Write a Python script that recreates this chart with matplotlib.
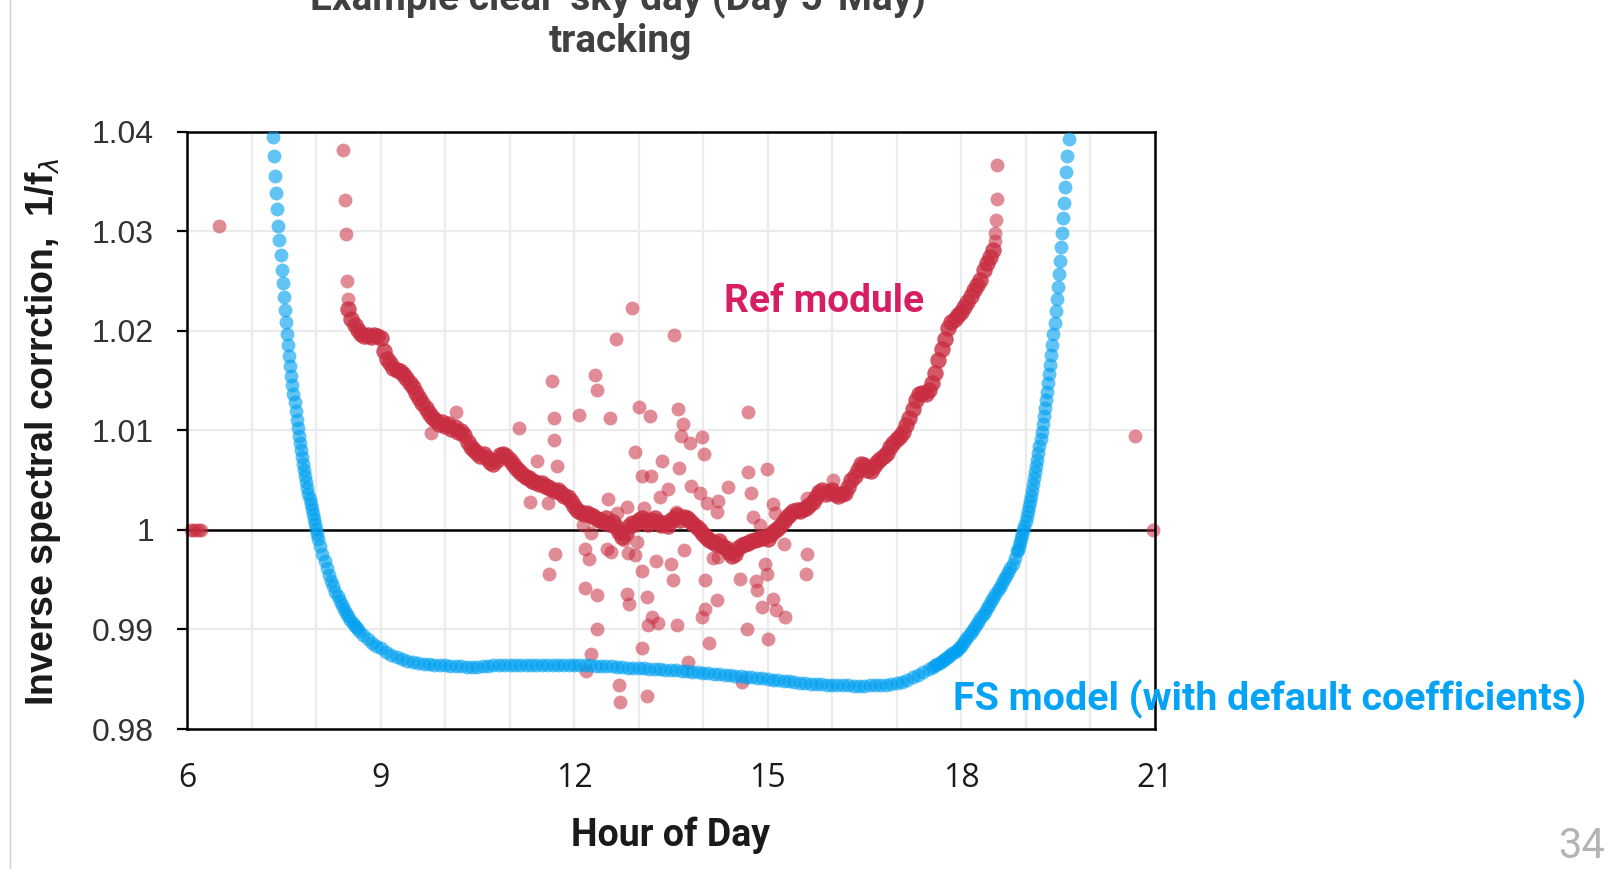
import matplotlib
matplotlib.use("Agg")
import matplotlib.pyplot as plt
from matplotlib.ticker import MultipleLocator
from matplotlib.lines import Line2D
import numpy as np

# ---------------- data ----------------
x_ticks = [6, 9, 12, 15, 18, 21]
x_tick_labels = ["6", "9", "12", "15", "18", "21"]
y_ticks = [0.98, 0.99, 1.00, 1.01, 1.02, 1.03, 1.04]
y_tick_labels = ["0.98", "0.99", "1", "1.01", "1.02", "1.03", "1.04"]

# FS model (minutes of day, value)
blue_minutes = [
    440, 441, 442, 443, 444, 445, 446, 447, 448, 449, 450, 451, 452, 453, 454,
    455, 456, 457, 458, 459, 460, 461, 462, 463, 464, 465, 466, 467, 468, 469,
    470, 471, 472, 473, 474, 475, 476, 477, 478, 479, 480, 481, 482,
    484, 486, 488, 490, 492, 494, 496, 498, 500, 502, 504, 506, 508, 510, 512,
    514, 516, 518, 520, 524, 528, 532, 536, 540,
    545, 550, 555, 560, 565, 570, 575, 580, 585, 590, 595, 600,
    605, 610, 615, 620, 625, 630, 635, 640,
    645, 650, 655, 660, 665, 670, 675, 680, 685, 690, 695, 700, 705, 710, 715,
    720, 725, 730, 735, 740, 745, 750,
    755, 760, 765, 770, 775, 780, 785, 790, 795, 800, 805, 810, 815, 820, 825,
    830, 835, 840, 845, 850, 855, 860, 865, 870, 875, 880, 885, 890, 895, 900,
    905, 910, 915, 920, 925, 930, 935, 940, 945, 950, 955, 960, 965, 970, 975,
    980, 985, 990, 995, 1000, 1005, 1010, 1015, 1020, 1025, 1030, 1035, 1040,
    1045, 1050,
    1054, 1056, 1058, 1060, 1062, 1064, 1066, 1068, 1070, 1072, 1074, 1076,
    1078, 1080, 1082, 1084, 1086, 1088, 1090, 1092, 1094, 1096, 1098, 1100,
    1102, 1104, 1106, 1108, 1110, 1112, 1114, 1116, 1118, 1120, 1122, 1124,
    1126, 1128, 1130, 1132,
    1133, 1134, 1135, 1136, 1137, 1138, 1139, 1140, 1141, 1142, 1143, 1144,
    1145, 1146, 1147, 1148, 1149, 1150, 1151, 1152, 1153, 1154, 1155, 1156,
    1157, 1158, 1159, 1160, 1161, 1162, 1163, 1164, 1165, 1166, 1167, 1168,
    1169, 1170, 1171, 1172, 1173, 1174, 1175, 1176, 1177, 1178, 1179, 1180,
]
blue_values = [
    1.0395, 1.0376, 1.0356, 1.0338, 1.0322, 1.0305, 1.0291, 1.0276, 1.0261,
    1.0248, 1.0234, 1.0221, 1.0209, 1.0197, 1.0186, 1.0175, 1.0165, 1.0155,
    1.0146, 1.0137, 1.0128, 1.0119, 1.0110, 1.0102, 1.0094, 1.0087, 1.0080,
    1.0073, 1.0066, 1.0060, 1.0054, 1.0048, 1.0042, 1.0036, 1.0031, 1.0026,
    1.0021, 1.0016, 1.0011, 1.0006, 1.0001, 0.9996, 0.9991,
    0.99835, 0.99757, 0.99683, 0.99614, 0.99550, 0.99490, 0.99433, 0.99380,
    0.99332, 0.99286, 0.99244, 0.99203, 0.99166, 0.99131, 0.99098, 0.99068,
    0.99039, 0.99012, 0.98987, 0.98942, 0.98903, 0.98868, 0.98838, 0.98812,
    0.98775, 0.98745, 0.98720, 0.98700, 0.98684, 0.98670, 0.98660, 0.98654,
    0.98650, 0.98646, 0.98643, 0.98640,
    0.98636, 0.98633, 0.98630, 0.98624, 0.98620, 0.98626, 0.98632, 0.98636,
    0.98638, 0.98640, 0.98640, 0.98641, 0.98640, 0.98640, 0.98639, 0.98640,
    0.98641, 0.98642, 0.98641, 0.98640, 0.98640, 0.98639, 0.98640, 0.98640,
    0.98639, 0.98638, 0.98638, 0.98637, 0.98636, 0.98635,
    0.98630, 0.98624, 0.98620, 0.98617, 0.98614, 0.98611, 0.98608, 0.98605,
    0.98602, 0.98599, 0.98596, 0.98593, 0.98589, 0.98585, 0.98580, 0.98575,
    0.98570, 0.98565, 0.98560, 0.98555, 0.98550, 0.98545, 0.98540, 0.98535,
    0.98530, 0.98525, 0.98520, 0.98514, 0.98508, 0.98502, 0.98496, 0.98490,
    0.98484, 0.98478, 0.98472, 0.98466, 0.98461, 0.98456, 0.98452, 0.98448,
    0.98445, 0.98442, 0.98440, 0.98438, 0.98437, 0.98436, 0.98436, 0.98436,
    0.98437, 0.98438, 0.98440, 0.98443, 0.98448, 0.98460, 0.98475, 0.98495,
    0.98518, 0.98545, 0.98572, 0.98600,
    0.98626, 0.98640, 0.98654, 0.98668, 0.98683, 0.98698, 0.98713, 0.98728,
    0.98744, 0.98760, 0.98777, 0.98795, 0.98815, 0.98838, 0.98864, 0.98892,
    0.98921, 0.98951, 0.98982, 0.99013, 0.99045, 0.99078, 0.99112, 0.99146,
    0.99180, 0.99215, 0.99250, 0.99285, 0.99320, 0.99356, 0.99392, 0.99428,
    0.99465, 0.99502, 0.99540, 0.99580, 0.99620, 0.99662, 0.99720, 0.99790,
    0.9980, 0.9984, 0.9988, 0.9992, 0.9996, 1.0000, 1.0004, 1.0009, 1.0014,
    1.0019, 1.0024, 1.0029, 1.0034, 1.0040, 1.0046, 1.0052, 1.0058, 1.0064,
    1.0070, 1.0077, 1.0084, 1.0091, 1.0098, 1.0106, 1.0114, 1.0122, 1.0130,
    1.0139, 1.0148, 1.0157, 1.0166, 1.0176, 1.0186, 1.0197, 1.0208, 1.0220,
    1.0232, 1.0244, 1.0257, 1.0270, 1.0284, 1.0298, 1.0313, 1.0328, 1.0344,
    1.0360, 1.0376, 1.0393,
]

# Ref module, clear part of the day (hour, value)
red_band_hours = [
    8.50, 8.55, 8.60, 8.65, 8.70, 8.75, 8.80, 8.85, 8.90, 8.95,
    9.00, 9.05, 9.10, 9.15, 9.20, 9.25, 9.30, 9.35, 9.40, 9.45,
    9.50, 9.55, 9.60, 9.65, 9.70, 9.75, 9.80, 9.85, 9.90, 9.95,
    10.00, 10.05, 10.10, 10.15, 10.20, 10.25, 10.30, 10.35, 10.40, 10.45,
    10.50, 10.55, 10.60, 10.65, 10.70, 10.75, 10.80, 10.85, 10.90, 10.95,
    11.00, 11.05, 11.10, 11.15, 11.20, 11.25, 11.30, 11.35, 11.40, 11.45,
    11.50, 11.55, 11.60, 11.65, 11.70, 11.75, 11.80, 11.85, 11.90, 11.95,
    12.00, 12.05, 12.10, 12.15, 12.20, 12.25, 12.30, 12.35, 12.40, 12.45,
    12.50, 12.55, 12.60, 12.65, 12.70, 12.75, 12.80, 12.85, 12.90, 12.95,
    13.00, 13.05, 13.10, 13.15, 13.20, 13.25, 13.30, 13.35, 13.40, 13.45,
    13.50, 13.55, 13.60, 13.65, 13.70, 13.75, 13.80, 13.85, 13.90, 13.95,
    14.00, 14.05, 14.10, 14.15, 14.20, 14.25, 14.30, 14.35, 14.40, 14.45,
    14.50, 14.55, 14.60, 14.65, 14.70, 14.75, 14.80, 14.85, 14.90, 14.95,
    15.00, 15.05, 15.10, 15.15, 15.20, 15.25, 15.30, 15.35, 15.40, 15.45,
    15.50, 15.55, 15.60, 15.65, 15.70, 15.75, 15.80, 15.85, 15.90, 15.95,
    16.00, 16.05, 16.10, 16.15, 16.20, 16.25, 16.30, 16.35, 16.40, 16.45,
    16.50, 16.55, 16.60, 16.65, 16.70, 16.75, 16.80, 16.85, 16.90, 16.95,
    17.00, 17.05, 17.10, 17.15, 17.20, 17.25, 17.30, 17.35, 17.40, 17.45,
    17.50, 17.55, 17.60, 17.65, 17.70, 17.75, 17.80, 17.85, 17.90, 17.95,
    18.00, 18.05, 18.10, 18.15, 18.20, 18.25, 18.30, 18.35, 18.40, 18.45,
    18.50,
]
red_band_values = [
    1.0222, 1.0212, 1.0206, 1.0201, 1.0197, 1.0195, 1.0196, 1.0194, 1.0196, 1.0195,
    1.0193, 1.0180, 1.0172, 1.0168, 1.0163, 1.0161, 1.0160, 1.0157, 1.0153, 1.0148,
    1.0144, 1.0138, 1.0132, 1.0127, 1.0122, 1.0117, 1.0113, 1.0110, 1.0106, 1.0108,
    1.0104, 1.0106, 1.0101, 1.0103, 1.0098, 1.0099, 1.0095, 1.0088, 1.0083, 1.0080,
    1.0077, 1.0074, 1.0076, 1.0072, 1.0068, 1.0066, 1.0070, 1.0075, 1.0076, 1.0074,
    1.0070, 1.0066, 1.0062, 1.0059, 1.0056, 1.0053, 1.0052, 1.0049, 1.0048, 1.0046,
    1.0047, 1.0044, 1.0043, 1.0041, 1.0039, 1.0040, 1.0037, 1.0034, 1.0033, 1.0029,
    1.0024, 1.0020, 1.0018, 1.0016, 1.0017, 1.0015, 1.0014, 1.0011, 1.0010, 1.0008,
    1.0012, 1.0006, 1.0008, 1.0003, 0.9998, 0.9993, 0.9997, 1.0004, 1.0007, 1.0006,
    1.0010, 1.0012, 1.0009, 1.0006, 1.0010, 1.0012, 1.0008, 1.0005, 1.0007, 1.0004,
    1.0010, 1.0012, 1.0015, 1.0010, 1.0013, 1.0012, 1.0009, 1.0006, 1.0003, 1.0000,
    0.9996, 0.9993, 0.9990, 0.9988, 0.9986, 0.9989, 0.9984, 0.9982, 0.9978, 0.9974,
    0.9976, 0.9982, 0.9985, 0.9986, 0.9987, 0.9989, 0.9990, 0.9991, 0.9992, 0.9993,
    0.9991, 0.9996, 0.9999, 1.0001, 1.0004, 1.0009, 1.0013, 1.0016, 1.0019, 1.0020,
    1.0019, 1.0021, 1.0022, 1.0025, 1.0028, 1.0033, 1.0038, 1.0040, 1.0036, 1.0038,
    1.0040, 1.0036, 1.0034, 1.0036, 1.0037, 1.0043, 1.0050, 1.0054, 1.0060, 1.0066,
    1.0065, 1.0060, 1.0059, 1.0064, 1.0068, 1.0071, 1.0074, 1.0077, 1.0083, 1.0087,
    1.0091, 1.0094, 1.0098, 1.0105, 1.0112, 1.0121, 1.0130, 1.0137, 1.0138, 1.0137,
    1.0141, 1.0148, 1.0158, 1.0171, 1.0182, 1.0192, 1.0203, 1.0209, 1.0212, 1.0216,
    1.0219, 1.0224, 1.0229, 1.0235, 1.0241, 1.0246, 1.0251, 1.0261, 1.0268, 1.0274,
    1.0281,
]

# Ref module, isolated / cloudy points (hour, value)
red_pts_hours = [
    6.06, 6.10, 6.14, 6.18, 6.22, 6.49,
    8.42, 8.45, 8.47, 8.48, 8.49,
    18.52, 18.53, 18.54, 18.555, 18.56,
    20.70, 20.98,
    9.79, 10.17, 11.15, 11.43, 11.32, 11.59, 11.66, 11.69, 11.69, 11.73,
    12.08, 12.33, 12.35, 12.56, 12.65, 12.90, 12.95, 13.00, 12.52, 13.55,
    13.18, 13.61, 13.69, 14.70, 13.66, 13.80, 13.98, 14.01, 13.36, 13.63,
    13.06, 13.20, 13.46, 13.33, 13.82, 13.95, 14.06, 14.24, 14.21, 14.38,
    14.70, 14.99, 14.75, 14.77, 15.09, 15.12, 15.25, 14.88, 12.14, 12.27,
    12.17, 12.24, 12.51, 12.58, 12.78, 12.84, 12.95, 12.97, 13.05, 13.27,
    13.50, 13.70, 13.54, 14.03, 14.16, 14.24, 14.58, 14.82, 14.83, 14.96,
    14.99, 14.91, 15.08, 15.13, 15.27, 15.61, 15.60, 11.71, 11.62, 12.17,
    12.35, 12.82, 12.86, 13.13, 13.21, 13.15, 13.31, 13.59, 13.98, 14.03,
    14.21, 14.10, 14.68, 15.01, 12.36, 12.26, 13.06, 13.76, 12.19, 12.70,
    12.72, 13.13, 14.60, 13.09, 13.58, 13.75, 12.82, 12.66, 12.40, 16.02,
    15.61,
]
red_pts_values = [
    1.0000, 1.0000, 1.0000, 1.0000, 1.0000, 1.0305,
    1.0382, 1.0331, 1.0297, 1.0250, 1.0232,
    1.0290, 1.0298, 1.0311, 1.0332, 1.0367,
    1.0094, 1.0000,
    1.0097, 1.0118, 1.0102, 1.0069, 1.0028, 1.0027, 1.0150, 1.0112, 1.0090, 1.0064,
    1.0115, 1.0156, 1.0141, 1.0112, 1.0192, 1.0223, 1.0078, 1.0123, 1.0031, 1.0196,
    1.0114, 1.0121, 1.0106, 1.0118, 1.0094, 1.0087, 1.0093, 1.0076, 1.0069, 1.0062,
    1.0054, 1.0054, 1.0041, 1.0033, 1.0044, 1.0037, 1.0027, 1.0029, 1.0018, 1.0043,
    1.0058, 1.0061, 1.0037, 1.0013, 1.0026, 1.0017, 0.9986, 1.0005, 1.0005, 0.9997,
    0.9981, 0.9971, 0.9981, 0.9978, 0.9990, 0.9977, 0.9975, 0.9988, 0.9959, 0.9969,
    0.9966, 0.9980, 0.9950, 0.9950, 0.9972, 0.9973, 0.9951, 0.9949, 0.9940, 0.9966,
    0.9956, 0.9923, 0.9931, 0.9920, 0.9913, 0.9976, 0.9956, 0.9976, 0.9956, 0.9942,
    0.9935, 0.9936, 0.9926, 0.9933, 0.9913, 0.9904, 0.9906, 0.9904, 0.9913, 0.9921,
    0.9930, 0.9886, 0.9900, 0.9890, 0.9900, 0.9875, 0.9881, 0.9867, 0.9858, 0.9844,
    0.9827, 0.9833, 0.9847, 1.0022, 1.0018, 1.0012, 1.0023, 1.0017, 1.0010, 1.0050,
    1.0032,
]

title_line1 = "Example clear-sky day (Day 5-May)"
title_line2 = "tracking"
x_label = "Hour of Day"
y_label = r"Inverse spectral corrction,  1/f$_\lambda$"
ref_label = "Ref module"
fs_label = "FS model (with default coefficients)"
page_number = "34"

# ---------------- figure ----------------
W, H = 1612, 869
fig = plt.figure(figsize=(W / 100, H / 100), dpi=100)
fig.patch.set_facecolor("white")

ax = fig.add_axes([187 / W, 1 - 729 / H, (1154.5 - 187) / W, (729 - 131.7) / H])
ax.set_xlim(6, 21)
ax.set_ylim(0.98, 1.04)

ax.set_xticks(x_ticks)
ax.set_xticklabels(x_tick_labels, family=["Open Sans", "DejaVu Sans"],
                   fontsize=23, color="#1a1a1a")
ax.set_yticks(y_ticks)
ax.set_yticklabels(y_tick_labels, family=["Liberation Sans", "DejaVu Sans"],
                   fontsize=23, color="#333333")
ax.xaxis.set_minor_locator(MultipleLocator(1))
ax.grid(which="both", color="#EBEBEB", lw=1.6, zorder=0)
ax.set_axisbelow(True)
ax.tick_params(axis="x", which="both", length=0, pad=24)
ax.tick_params(axis="y", which="major", length=7.2, width=1.6, pad=16.5,
               direction="out", color="black")
ax.tick_params(axis="y", which="minor", length=0)
for s in ax.spines.values():
    s.set_linewidth(1.8)
    s.set_color("black")

ax.axhline(1.0, color="black", lw=1.8, zorder=1.5)

red_col = "#C82D41"
blue_col = "#00A0F0"
ax.scatter(red_pts_hours, red_pts_values, s=100, color=red_col, alpha=0.55,
           linewidths=0, zorder=2, clip_on=False)
ax.scatter(red_band_hours, red_band_values, s=140, color=red_col, alpha=0.8,
           linewidths=0, zorder=2.1)
blue_hours = np.asarray(blue_minutes) / 60.0
ax.scatter(blue_hours, blue_values, s=100, color=blue_col, alpha=0.62,
           linewidths=0, zorder=3)

# ---------------- texts ----------------
bold_fam = ["Roboto", "DejaVu Sans"]
fig.text(618 / W, 1 - 10 / H, title_line1, ha="center", va="baseline",
         fontsize=28, fontweight="bold", family=bold_fam, color="#404040")
fig.text(620 / W, 1 - 52 / H, title_line2, ha="center", va="baseline",
         fontsize=28, fontweight="bold", family=bold_fam, color="#404040")

fig.text(671 / W, 1 - 835 / H, x_label, ha="center", va="center",
         fontsize=27, fontweight="bold",
         family=["Liberation Sans Narrow", "Roboto", "DejaVu Sans"], color="#1a1a1a")
fig.text(43 / W, 1 - 432 / H, y_label, ha="center", va="center", rotation=90,
         fontsize=27, fontweight="bold", family=["Liberation Sans", "DejaVu Sans"],
         color="#1a1a1a")

fig.text(824 / W, 1 - 301 / H, ref_label, ha="center", va="center",
         fontsize=28, fontweight="bold", family=bold_fam, color="#D71E64")
fig.text(1270 / W, 1 - 699 / H, fs_label, ha="center", va="center",
         fontsize=28.4, fontweight="bold", family=bold_fam, color="#05A3F5")
fig.text(1581 / W, 1 - 846 / H, page_number, ha="center", va="center",
         fontsize=30, fontweight="normal", family=bold_fam, color="#B4B4B4")

fig.add_artist(Line2D([10 / W, 10 / W], [0, 1], transform=fig.transFigure,
                      color="#CFCFCF", lw=1.0))

fig.savefig("out.png", dpi=100, facecolor="white")
